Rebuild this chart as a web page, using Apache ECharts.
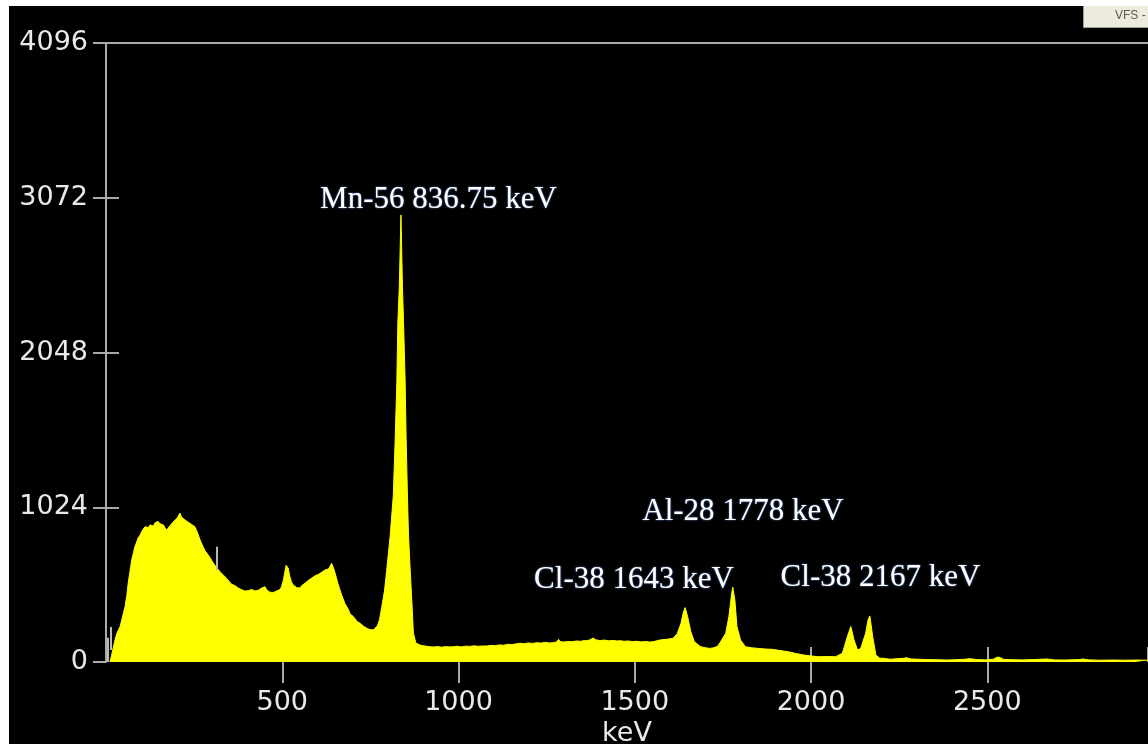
<!DOCTYPE html>
<html>
<head>
<meta charset="utf-8">
<script src="https://cdn.jsdelivr.net/npm/echarts@6/dist/echarts.min.js"></script>
<style>
  html, body { margin: 0; padding: 0; background: #ffffff; }
  #wrap { position: relative; width: 1148px; height: 744px; background: #ffffff; overflow: hidden; }
  #chart { position: absolute; left: 9px; top: 6px; width: 1139px; height: 738px; }
</style>
</head>
<body>
<div id="wrap"><div id="chart"></div></div>
<script>
// Gamma spectrum: [energy keV, counts]
const humpRegion = [
  [11, 0], [16, 45], [21, 100], [26, 150], [31, 190], [36, 215], [40, 235], [45, 280], [50, 330],
  [54, 366], [59, 440], [63, 523], [68, 600], [73, 675], [78, 725], [82, 763], [88, 800], [92, 825],
  [97, 840], [101, 862], [106, 880], [111, 895], [115, 900], [120, 890], [125, 907], [130, 912],
  [135, 900], [139, 922], [144, 918], [148, 930], [153, 915], [158, 905], [163, 907], [167, 890],
  [172, 873], [177, 885], [181, 900], [186, 907], [190, 925], [195, 918], [201, 951], [205, 960],
  [210, 985], [214, 960], [219, 950], [224, 940], [229, 945], [233, 925], [238, 928], [243, 910],
  [248, 900], [252, 895], [257, 870], [262, 840], [267, 807], [272, 780], [277, 755], [281, 735],
  [286, 721], [291, 705], [295, 690], [300, 672], [304, 655], [309, 640], [314, 625], [318, 612],
  [323, 598], [328, 585], [333, 575], [337, 565], [342, 554], [347, 540], [352, 530], [356, 515],
  [361, 510], [366, 505], [371, 495], [375, 490], [380, 488], [385, 478], [390, 482], [394, 470],
  [399, 465], [404, 472], [409, 468], [413, 480], [418, 476], [423, 470], [428, 482], [432, 475],
  [437, 476], [442, 490], [446, 485], [451, 498], [456, 476], [460, 470], [465, 462], [470, 455],
  [475, 460], [479, 465], [484, 470], [489, 476], [494, 480], [498, 500], [503, 540], [507, 590],
  [511, 640], [514, 650], [517, 620], [521, 570], [526, 530], [531, 510], [536, 498], [541, 492],
  [546, 488], [550, 490], [555, 505], [560, 515], [565, 522], [569, 531], [574, 540], [579, 548],
  [584, 556], [588, 564], [593, 570], [598, 575], [603, 580], [607, 587], [612, 594], [617, 602],
  [622, 610], [626, 620], [631, 615], [636, 635], [640, 653], [645, 625], [650, 587], [655, 545],
  [659, 510], [664, 476], [669, 440], [674, 410], [678, 385], [683, 366], [688, 345], [692, 320],
  [697, 310], [702, 300], [707, 285], [711, 270], [716, 262], [721, 256], [726, 245], [730, 238],
  [735, 230], [740, 223], [745, 218], [749, 214], [754, 212], [759, 213], [764, 222]
];

const mnPeakRegion = [
  [770, 240], [776, 280], [782, 360], [790, 470], [796, 600], [806, 830], [815, 1100], [820, 1450],
  [825, 1850], [828, 2250], [832, 2480], [836.75, 2958], [841, 2480], [844, 2260], [848.5, 1866],
  [851.5, 1469], [855, 1118], [858, 854], [862.5, 629], [867.5, 410], [872, 192], [879, 126], [891, 112]
];

const continuumRegion = [
  [900, 108], [910, 104], [919, 101], [930, 99], [940, 103], [952, 98], [963, 102], [975, 100],
  [985, 101], [996, 104], [1008, 100], [1020, 105], [1032, 103], [1044, 107], [1056, 104],
  [1068, 106], [1080, 106], [1092, 110], [1104, 108], [1116, 113], [1128, 111], [1140, 117],
  [1152, 115], [1164, 120], [1174, 124], [1186, 121], [1198, 126], [1210, 123], [1222, 128],
  [1234, 125], [1246, 130], [1258, 126], [1268, 128], [1278, 132], [1284, 150], [1288, 135],
  [1298, 132], [1310, 136], [1322, 134], [1334, 139], [1346, 137], [1358, 142], [1364, 141],
  [1374, 148], [1382, 159], [1390, 146], [1402, 142], [1414, 145], [1426, 140], [1438, 143],
  [1450, 139], [1458, 141], [1470, 137], [1482, 139], [1494, 135], [1506, 137], [1518, 133],
  [1530, 136], [1542, 132], [1552, 134], [1562, 140], [1572, 146], [1590, 150], [1609, 157]
];

const highPeaksRegion = [
  [1621, 190], [1631, 255], [1638, 330], [1643, 360], [1650, 300], [1659, 201], [1669, 134],
  [1687, 101], [1700, 95], [1712, 90], [1724, 94], [1735, 104], [1742, 128], [1758, 190],
  [1767, 300], [1775, 454], [1778, 495], [1784, 410], [1790, 234], [1800, 146], [1814, 101],
  [1832, 94], [1850, 90], [1870, 86], [1890, 84], [1912, 76], [1935, 68], [1958, 56], [1980, 46],
  [2000, 40], [2020, 35], [2045, 36], [2070, 35], [2089, 58], [2103, 167], [2113, 235],
  [2122, 146], [2132, 79], [2141, 90], [2155, 190], [2162, 280], [2167, 305], [2175, 167],
  [2184, 46], [2195, 25]
];

const tailRegion = [
  [2205, 25], [2224, 18], [2245, 22], [2261, 24], [2270, 28], [2285, 20], [2309, 18], [2330, 16],
  [2360, 15], [2385, 13], [2410, 15], [2435, 18], [2451, 22], [2470, 16], [2495, 14], [2517, 18],
  [2525, 28], [2531, 33], [2538, 28], [2545, 18], [2570, 15], [2600, 14], [2630, 16], [2669, 20],
  [2690, 14], [2720, 13], [2763, 16], [2770, 20], [2790, 14], [2820, 12], [2857, 13], [2890, 12],
  [2920, 13], [2956, 12]
];

// Axis ranges and ticks
const energyMax = 2956;
const energyStep = 500;
const countsMax = 4096;
const countsStep = 1024;
const innerCountTicks = [1024, 2048, 3072];

// Region-of-interest markers: [energy, lowCount, highCount]
const roiMarkers = [[315, 610, 762], [13, 80, 232], [6, 0, 160]];

// Peak annotations
const peakLabels = ['Mn-56 836.75 keV', 'Al-28 1778 keV', 'Cl-38 1643 keV', 'Cl-38 2167 keV'];

const spectrum = humpRegion.concat(mnPeakRegion, continuumRegion, highPeaksRegion, tailRegion);

const axisGray = '#a9a9a9';
const labelColor = '#e9e9e9';
const tickFont = 'DejaVu Sans';

const chart = echarts.init(document.getElementById('chart'), null, { renderer: 'canvas' });

const labelSpots = [[429.5, 194], [734, 506], [625, 574], [871.5, 571.5]];
const gridBox = { left: 97, top: 37, right: 0, bottom: 82, outerBoundsMode: 'none', containLabel: false };

chart.setOption({
  animation: false,
  backgroundColor: '#000000',
  grid: [Object.assign({}, gridBox), Object.assign({}, gridBox)],
  xAxis: [
    {
      type: 'value', gridIndex: 0, position: 'bottom',
      min: 0, max: energyMax, interval: energyStep,
      axisLine: { show: false },
      axisTick: { show: true, length: 21, lineStyle: { color: axisGray, width: 2 } },
      axisLabel: {
        color: labelColor, fontFamily: tickFont, fontSize: 27, margin: 27,
        showMinLabel: false, showMaxLabel: false,
        formatter: v => (v === 0 ? '' : String(v))
      },
      splitLine: { show: false },
      name: 'keV', nameLocation: 'middle', nameGap: 54,
      nameTextStyle: { color: labelColor, fontFamily: tickFont, fontSize: 27 }
    },
    {
      type: 'value', gridIndex: 1, position: 'bottom',
      min: 0, max: energyMax, interval: energyStep,
      axisLine: { show: false },
      axisTick: { show: true, inside: true, length: 15, lineStyle: { color: axisGray, width: 2 } },
      axisLabel: { show: false },
      splitLine: { show: false }
    },
    {
      type: 'value', gridIndex: 1, position: 'top',
      min: 0, max: energyMax, interval: energyStep,
      axisLine: { show: true, lineStyle: { color: axisGray, width: 2 } },
      axisTick: { show: false },
      axisLabel: { show: false },
      splitLine: { show: false }
    }
  ],
  yAxis: [
    {
      type: 'value', gridIndex: 0, position: 'left',
      min: 0, max: countsMax, interval: countsStep,
      axisLine: { show: true, lineStyle: { color: axisGray, width: 2 } },
      axisTick: { show: true, length: 13, lineStyle: { color: axisGray, width: 2 } },
      axisLabel: { color: labelColor, fontFamily: tickFont, fontSize: 27, margin: 18,
                   formatter: v => String(v) },
      splitLine: { show: false }
    },
    {
      type: 'value', gridIndex: 1, position: 'left',
      min: 0, max: countsMax, interval: countsStep,
      axisLine: { show: false },
      axisTick: { show: true, inside: true, length: 13, customValues: innerCountTicks,
                  lineStyle: { color: axisGray, width: 2 } },
      axisLabel: { show: false },
      splitLine: { show: false }
    }
  ],
  series: [
    {
      type: 'line',
      xAxisIndex: 0, yAxisIndex: 0,
      data: spectrum,
      showSymbol: false,
      symbol: 'none',
      lineStyle: { color: '#ffff00', width: 1 },
      areaStyle: { color: '#ffff00', opacity: 1 },
      z: 3,
      markLine: {
        silent: true,
        symbol: ['none', 'none'],
        label: { show: false },
        lineStyle: { color: '#b9b9b9', width: 2, type: 'solid' },
        data: roiMarkers.map(m => [{ coord: [m[0], m[1]] }, { coord: [m[0], m[2]] }])
      }
    }
  ],
  graphic: [
    {
      type: 'rect', left: 1074, top: -1, z: 10,
      shape: { width: 66, height: 22 },
      style: { fill: '#ecebdc', stroke: '#9d9c90', lineWidth: 1 }
    },
    {
      type: 'text', x: 1106, y: 10, z: 11,
      style: { text: 'VFS -', fill: '#5a5a5a', font: '12px "Liberation Sans"', verticalAlign: 'middle' }
    }
  ].concat(peakLabels.map((t, i) => ({
    type: 'text', x: labelSpots[i][0], y: labelSpots[i][1], z: 12,
    style: {
      text: t, fill: '#ffffff', font: '31px "Liberation Serif"',
      align: 'center', verticalAlign: 'middle',
      textShadowColor: 'rgba(110,160,255,0.9)', textShadowBlur: 2
    }
  })))
});
</script>
</body>
</html>
